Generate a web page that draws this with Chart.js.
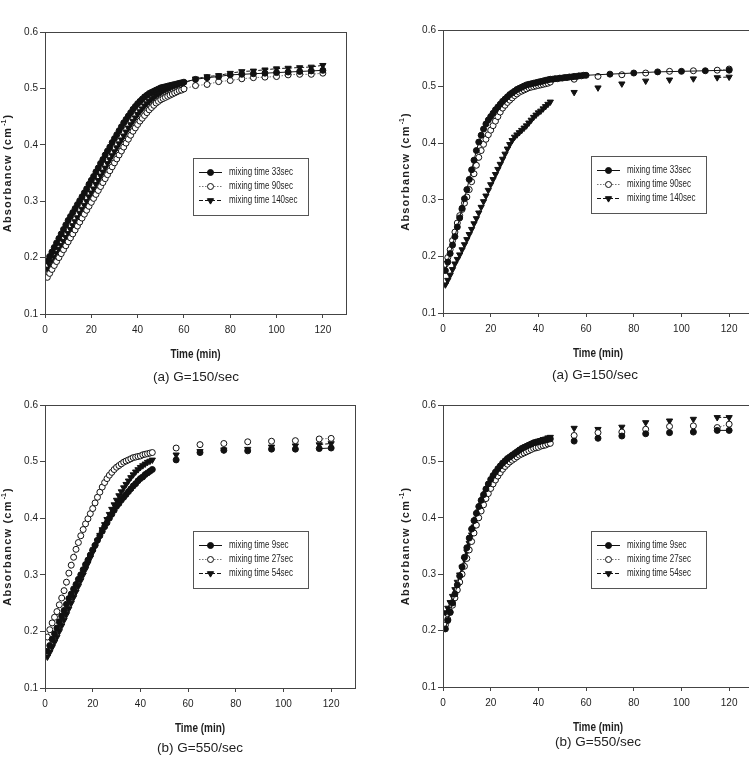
<!DOCTYPE html>
<html>
<head>
<meta charset="utf-8">
<script src="https://cdn.jsdelivr.net/npm/chart.js@4.4.1/dist/chart.umd.min.js"></script>
<style>
  html, body { margin: 0; padding: 0; background: #fff; width: 749px; height: 767px; overflow: hidden; }
  canvas { position: absolute; }
  .cap { position: absolute; font: 13.5px "Liberation Sans", Arial, sans-serif; color: #222;
         transform: translate(-50%, -50%); white-space: nowrap; }
</style>
</head>
<body>
<canvas id="c1"></canvas>
<canvas id="c2"></canvas>
<canvas id="c3"></canvas>
<canvas id="c4"></canvas>
<div class="cap" style="left:196px;top:376px">(a) G=150/sec</div>
<div class="cap" style="left:595px;top:374px">(a) G=150/sec</div>
<div class="cap" style="left:200px;top:747px">(b) G=550/sec</div>
<div class="cap" style="left:598px;top:741px">(b) G=550/sec</div>
<script>
// time axes (min)
const timeA = [1,2,3,4,5,6,7,8,9,10,11,12,13,14,15,16,17,18,19,20,21,22,23,24,25,26,27,28,29,30,
  31,32,33,34,35,36,37,38,39,40,41,42,43,44,45,46,47,48,49,50,51,52,53,54,55,56,57,58,59,60,
  65,70,75,80,85,90,95,100,105,110,115,120];
const timeB = [1,2,3,4,5,6,7,8,9,10,11,12,13,14,15,16,17,18,19,20,21,22,23,24,25,26,27,28,29,30,
  31,32,33,34,35,36,37,38,39,40,41,42,43,44,45,46,47,48,49,50,51,52,53,54,55,56,57,58,59,60,
  70,80,90,100,110,120];
const timeC = [1,2,3,4,5,6,7,8,9,10,11,12,13,14,15,16,17,18,19,20,21,22,23,24,25,26,27,28,29,30,
  31,32,33,34,35,36,37,38,39,40,41,42,43,44,45,55,65,75,85,95,105,115,120];

const xTicks = [0, 20, 40, 60, 80, 100, 120];
const yTicks = [0.1, 0.2, 0.3, 0.4, 0.5, 0.6];

// (a) G=150/sec, left panel
const p1_33 = [.194,.202,.210,.218,.226,.234,.242,.250,.258,.266,
  .273,.280,.287,.294,.301,.308,.315,.322,.330,.337,
  .344,.352,.359,.367,.374,.382,.389,.396,.404,.411,
  .418,.425,.432,.439,.445,.451,.457,.463,.468,.473,
  .477,.481,.485,.488,.491,.493,.495,.497,.499,.501,
  .502,.503,.504,.505,.506,.507,.508,.509,.510,.511,
  .516,.519,.521,.524,.525,.526,.527,.528,.529,.530,.531,.532];
const p1_90 = [.165,.172,.179,.186,.193,.200,.207,.214,.221,.228,
  .235,.242,.249,.256,.263,.270,.277,.284,.291,.298,
  .305,.312,.319,.326,.333,.340,.347,.354,.361,.368,
  .375,.382,.389,.396,.403,.410,.417,.424,.430,.436,
  .442,.447,.452,.457,.462,.466,.470,.474,.477,.480,
  .482,.484,.486,.488,.490,.492,.494,.496,.497,.499,
  .505,.507,.512,.514,.517,.519,.520,.521,.524,.525,.525,.527];
const p1_140 = [.180,.187,.194,.201,.208,.215,.222,.229,.236,.243,
  .250,.257,.264,.271,.279,.286,.293,.300,.308,.315,
  .322,.330,.337,.345,.352,.359,.367,.374,.381,.388,
  .395,.402,.409,.416,.423,.430,.436,.442,.448,.454,
  .459,.464,.469,.473,.477,.481,.484,.487,.490,.493,
  .495,.497,.499,.501,.503,.505,.506,.508,.509,.510,
  .517,.521,.523,.527,.530,.531,.533,.535,.536,.537,.538,.541];

// (a) G=150/sec, right panel
const p2_33 = [.175,.190,.205,.220,.235,.252,.268,.285,.302,.318,
  .336,.353,.370,.387,.402,.414,.425,.434,.441,.447,
  .453,.459,.464,.469,.474,.478,.482,.486,.489,.492,
  .495,.497,.499,.501,.503,.504,.505,.506,.507,.508,
  .509,.510,.511,.512,.513,.513,.514,.514,.515,.515,
  .516,.516,.517,.517,.518,.518,.519,.519,.520,.520,
  .522,.524,.526,.527,.528,.529];
const p2_90 = [.186,.198,.212,.228,.243,.259,.272,.283,.294,.305,
  .318,.332,.346,.361,.375,.387,.398,.407,.415,.423,
  .431,.439,.447,.455,.462,.467,.472,.476,.480,.484,
  .487,.490,.492,.494,.496,.498,.499,.500,.501,.502,
  .503,.504,.505,.506,.508,
  .513,.518,.521,.524,.527,.528,.529,.531];
const p2_140 = [.150,.158,.167,.177,.187,.195,.203,.212,.221,.230,
  .239,.248,.258,.267,.277,.287,.297,.307,.317,.327,
  .336,.345,.354,.363,.372,.381,.390,.398,.405,.411,
  .415,.419,.423,.427,.431,.436,.441,.446,.450,.454,
  .457,.461,.465,.469,.473,
  .490,.498,.505,.510,.512,.514,.516,.517];

// (b) G=550/sec, left panel
const p3_9 = [.165,.175,.186,.196,.206,.217,.227,.237,.248,.258,
  .266,.275,.283,.292,.300,.309,.318,.326,.335,.344,
  .352,.361,.369,.377,.385,.392,.400,.407,.414,.421,
  .426,.432,.437,.442,.447,.452,.457,.461,.466,.470,
  .473,.477,.480,.483,.486,
  .503,.516,.520,.519,.522,.522,.523,.524];
const p3_27 = [.190,.203,.215,.225,.235,.247,.259,.272,.287,.303,
  .317,.331,.345,.357,.369,.380,.390,.399,.408,.417,
  .427,.437,.446,.455,.463,.470,.476,.481,.486,.490,
  .493,.496,.499,.501,.503,.505,.507,.508,.509,.510,
  .512,.513,.514,.515,.516,
  .524,.530,.532,.535,.536,.537,.540,.541];
const p3_54 = [.155,.163,.172,.181,.190,.200,.210,.220,.230,.240,
  .250,.260,.270,.280,.290,.300,.310,.320,.330,.340,
  .350,.360,.370,.380,.389,.398,.407,.416,.424,.432,
  .440,.447,.454,.460,.466,.472,.477,.482,.486,.490,
  .493,.496,.499,.501,.503,
  .512,.518,.521,.522,.526,.528,.530,.532];

// (b) G=550/sec, right panel
const p4_9 = [.203,.218,.233,.249,.265,.281,.297,.313,.330,.347,
  .364,.380,.395,.408,.420,.431,.441,.451,.460,.468,
  .475,.481,.487,.492,.497,.501,.505,.508,.511,.514,
  .517,.520,.523,.525,.527,.529,.531,.533,.534,.535,
  .536,.537,.538,.539,.540,
  .536,.541,.545,.549,.551,.552,.555,.555];
const p4_27 = [.210,.220,.232,.245,.258,.272,.286,.300,.314,.328,
  .343,.358,.373,.387,.400,.412,.423,.434,.443,.452,
  .460,.467,.474,.480,.486,.491,.495,.499,.502,.505,
  .508,.511,.513,.515,.517,.519,.521,.523,.524,.525,
  .527,.528,.529,.531,.532,
  .546,.551,.552,.557,.562,.563,.560,.566];
const p4_54 = [.232,.240,.250,.261,.273,.286,.299,.312,.326,.340,
  .355,.370,.384,.398,.411,.423,.434,.444,.453,.461,
  .469,.476,.482,.488,.493,.498,.502,.506,.509,.512,
  .515,.518,.521,.524,.526,.528,.530,.532,.534,.536,
  .537,.539,.540,.542,.543,
  .559,.557,.561,.569,.572,.575,.578,.578];

const labelsA = ['mixing time 33sec', 'mixing time 90sec', 'mixing time 140sec'];
const labelsB = ['mixing time 9sec', 'mixing time 27sec', 'mixing time 54sec'];

const SANS = '"Liberation Sans", Arial, sans-serif';
const INK = '#1e1e1e';
const AXIS = '#444';

// marker + line look of the three series
const looks = [
  { color: '#111', dash: [], pointStyle: 'circle', rot: 0, r: 3, fill: '#111' },
  { color: '#777', dash: [1.5, 1.5], pointStyle: 'circle', rot: 0, r: 3, fill: '#fff' },
  { color: '#111', dash: [4, 2], pointStyle: 'triangle', rot: 180, r: 3.6, fill: '#111' }
];

function pts(t, v) { return t.map((x, i) => ({ x: x, y: v[i] })); }

function mkSet(label, t, v, look, maxGap) {
  return {
    label: label,
    data: pts(t, v),
    borderColor: look.color,
    borderWidth: 1,
    borderDash: look.dash,
    pointStyle: look.pointStyle,
    pointRotation: look.rot,
    pointRadius: look.r,
    pointBackgroundColor: look.fill,
    pointBorderColor: '#111',
    pointBorderWidth: 1,
    segment: {
      borderColor: c => (c.p1.parsed.x - c.p0.parsed.x > maxGap ? 'rgba(0,0,0,0)' : look.color)
    }
  };
}

// narrow text: squeeze horizontally
function narrowText(ctx, text, x, y, font, sx, align) {
  ctx.save();
  ctx.font = font;
  ctx.translate(x, y);
  ctx.scale(sx, 1);
  ctx.textAlign = align;
  ctx.textBaseline = 'middle';
  ctx.fillText(text, 0, 0);
  ctx.restore();
}

// frame, inner legend box, x title and spaced y title
const panelDecor = {
  id: 'panelDecor',
  afterDraw(chart) {
    const { ctx, chartArea: a } = chart;
    ctx.save();
    ctx.strokeStyle = AXIS;
    ctx.lineWidth = 1;
    ctx.strokeRect(Math.round(a.left) + 0.5, Math.round(a.top) + 0.5,
      Math.round(a.right - a.left), Math.round(a.bottom - a.top));

    // legend
    const bx = Math.round(a.left + 148), by = Math.round(a.top + 126), bw = 115, bh = 57;
    ctx.fillStyle = '#fff';
    ctx.fillRect(bx, by, bw, bh);
    ctx.strokeStyle = '#555';
    ctx.strokeRect(bx + 0.5, by + 0.5, bw, bh);
    chart.data.datasets.forEach((ds, i) => {
      const y = by + 14.5 + i * 14;
      ctx.strokeStyle = ds.borderColor;
      ctx.lineWidth = 1;
      ctx.setLineDash(ds.borderDash);
      ctx.beginPath();
      ctx.moveTo(bx + 6, y);
      ctx.lineTo(bx + 29, y);
      ctx.stroke();
      ctx.setLineDash([]);
      ctx.fillStyle = ds.pointBackgroundColor;
      ctx.strokeStyle = ds.pointBorderColor;
      Chart.helpers.drawPoint(ctx, { pointStyle: ds.pointStyle, rotation: ds.pointRotation,
        radius: ds.pointRadius, borderWidth: 1 }, bx + 17.5, y);
      ctx.fillStyle = INK;
      narrowText(ctx, ds.label, bx + 36, y, '10px ' + SANS, 0.8, 'left');
    });

    // x title
    ctx.fillStyle = INK;
    narrowText(ctx, 'Time (min)', (a.left + a.right) / 2, a.bottom + 41, 'bold 12px ' + SANS, 0.83, 'center');

    // y title
    ctx.translate(a.left - 37, (a.top + a.bottom) / 2);
    ctx.rotate(-Math.PI / 2);
    ctx.fillStyle = INK;
    ctx.textBaseline = 'middle';
    ctx.textAlign = 'left';
    const main = 'Absorbancw (cm', sup = '-1', close = ')';
    ctx.font = 'bold 11px ' + SANS;
    ctx.letterSpacing = '1.2px';
    const w1 = ctx.measureText(main).width, w3 = ctx.measureText(close).width;
    ctx.font = 'bold 7px ' + SANS;
    ctx.letterSpacing = '0px';
    const w2 = ctx.measureText(sup).width + 2;
    const x = -(w1 + w2 + w3) / 2;
    ctx.font = 'bold 11px ' + SANS;
    ctx.letterSpacing = '1.2px';
    ctx.fillText(main, x, 0);
    ctx.font = 'bold 7px ' + SANS;
    ctx.letterSpacing = '0px';
    ctx.fillText(sup, x + w1 + 1, -4);
    ctx.font = 'bold 11px ' + SANS;
    ctx.letterSpacing = '1.2px';
    ctx.fillText(close, x + w1 + w2, 0);
    ctx.restore();
  }
};

function makePanel(p) {
  const cv = document.getElementById(p.id);
  const w = p.R + 20 - p.cl, h = p.B + 60 - p.ct;
  cv.width = w; cv.height = h;
  cv.style.left = p.cl + 'px'; cv.style.top = p.ct + 'px';
  cv.style.width = w + 'px'; cv.style.height = h + 'px';
  new Chart(cv, {
    type: 'line',
    data: { datasets: p.sets },
    options: {
      responsive: false,
      animation: false,
      layout: { padding: { top: p.T - p.ct, right: 20, left: 0, bottom: 0 } },
      plugins: { legend: { display: false }, tooltip: { enabled: false } },
      scales: {
        x: {
          type: 'linear', min: 0, max: 130,
          afterFit: s => { s.height = 60; },
          afterBuildTicks: s => { s.ticks = xTicks.map(v => ({ value: v })); },
          ticks: { color: INK, padding: 6, maxRotation: 0, font: { family: SANS, size: 10 } },
          grid: { drawOnChartArea: false, tickLength: 4, color: AXIS },
          border: { color: AXIS }
        },
        y: {
          min: 0.1, max: 0.6,
          afterFit: s => { s.width = p.L - p.cl; },
          afterBuildTicks: s => { s.ticks = yTicks.map(v => ({ value: v })); },
          ticks: { color: INK, padding: 2, callback: v => v.toFixed(1), font: { family: SANS, size: 10 } },
          grid: { drawOnChartArea: false, tickLength: 5, color: AXIS },
          border: { color: AXIS }
        }
      }
    },
    plugins: [panelDecor]
  });
}

makePanel({ id: 'c1', cl: 0, ct: 0, L: 45, T: 32, R: 346, B: 314, sets: [
  mkSet(labelsA[0], timeA, p1_33, looks[0], 5),
  mkSet(labelsA[1], timeA, p1_90, looks[1], 5),
  mkSet(labelsA[2], timeA, p1_140, looks[2], 5)] });
makePanel({ id: 'c2', cl: 375, ct: 0, L: 443, T: 30, R: 753, B: 313, sets: [
  mkSet(labelsA[0], timeB, p2_33, looks[0], 10),
  mkSet(labelsA[1], timeC, p2_90, looks[1], 5),
  mkSet(labelsA[2], timeC, p2_140, looks[2], 5)] });
makePanel({ id: 'c3', cl: 0, ct: 380, L: 45, T: 405, R: 355, B: 688, sets: [
  mkSet(labelsB[0], timeC, p3_9, looks[0], 5),
  mkSet(labelsB[1], timeC, p3_27, looks[1], 5),
  mkSet(labelsB[2], timeC, p3_54, looks[2], 5)] });
makePanel({ id: 'c4', cl: 375, ct: 380, L: 443, T: 405, R: 753, B: 687, sets: [
  mkSet(labelsB[0], timeC, p4_9, looks[0], 5),
  mkSet(labelsB[1], timeC, p4_27, looks[1], 5),
  mkSet(labelsB[2], timeC, p4_54, looks[2], 5)] });
</script>
</body>
</html>
